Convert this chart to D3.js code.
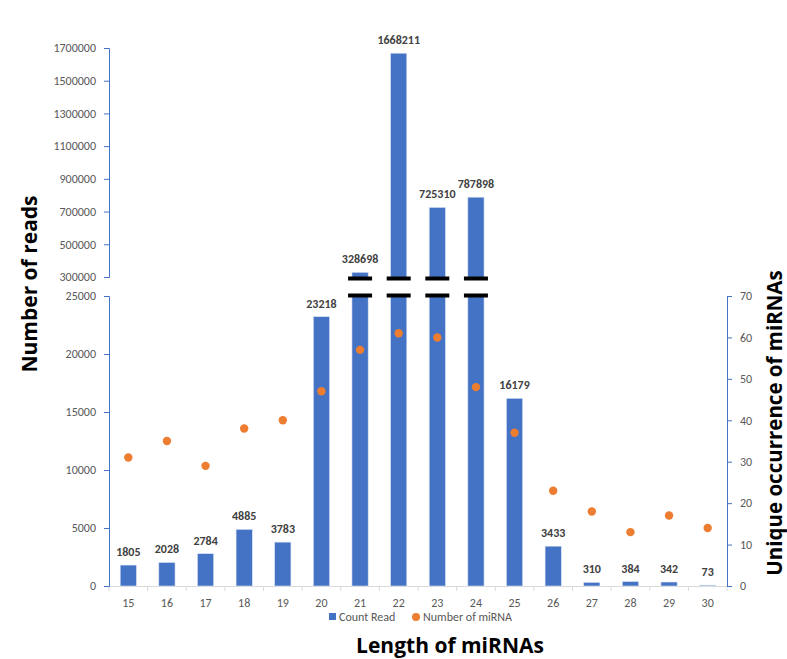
<!DOCTYPE html>
<html>
<head>
<meta charset="utf-8">
<script src="https://cdn.jsdelivr.net/npm/d3@7"></script>
<style>
  body { margin: 0; background: #fff; }
  text { font-family: Carlito, "Liberation Sans", sans-serif; }
  .title { font-family: "Open Sans", sans-serif; font-weight: bold; fill: #000; }
</style>
</head>
<body>
<div id="chart"></div>
<script>
// miRNA length distribution
const lengths = ['15','16','17','18','19','20','21','22','23','24','25','26','27','28','29','30'];
const countRead = [1805, 2028, 2784, 4885, 3783, 23218, 328698, 1668211, 725310, 787898, 16179, 3433, 310, 384, 342, 73];
const miRNA = [31, 35, 29, 38, 40, 47, 57, 61, 60, 48, 37, 23, 18, 13, 17, 14];
const lowerTicks = [0, 5000, 10000, 15000, 20000, 25000];
const upperTicks = [300000, 500000, 700000, 900000, 1100000, 1300000, 1500000, 1700000];
const rightTicks = [0, 10, 20, 30, 40, 50, 60, 70];

const width = 787, height = 659;
const blue = '#4472c4', orange = '#ed7d31', axisBlue = '#4472c4';
const breakAt = 25000;

const svg = d3.select('#chart').append('svg')
  .attr('width', width).attr('height', height);

const x = d3.scaleBand().domain(lengths).range([109, 727]);
const yLow = d3.scaleLinear().domain([0, 25000]).range([586, 296]);
const yUp = d3.scaleLinear().domain([300000, 1700000]).range([277, 48]);
const yRight = d3.scaleLinear().domain([0, 70]).range([586, 296]);

const barW = x.bandwidth() * 0.42;
const data = lengths.map((l, i) => ({ len: l, reads: countRead[i], mi: miRNA[i] }));
const fmt = d3.format('d');

// x axis
const xAxis = svg.append('g').attr('transform', 'translate(0,586)')
  .call(d3.axisBottom(x).tickSize(0).tickPadding(12));
xAxis.select('.domain').attr('stroke', '#d9d9d9');
xAxis.selectAll('text').attr('fill', '#595959').attr('font-size', 12);
xAxis.selectAll('.bound').data(d3.range(lengths.length + 1)).enter().append('line')
  .attr('x1', i => 109 + i * x.step()).attr('x2', i => 109 + i * x.step())
  .attr('y1', 0).attr('y2', 5).attr('stroke', '#d9d9d9');

// left axes (broken)
function styleAxis(g) {
  g.select('.domain').attr('stroke', axisBlue);
  g.selectAll('.tick line').attr('stroke', axisBlue);
  g.selectAll('text').attr('fill', '#595959').attr('font-size', 12);
}
svg.append('g').attr('transform', 'translate(109,0)')
  .call(d3.axisLeft(yLow).tickValues(lowerTicks).tickFormat(fmt).tickSize(5).tickPadding(8))
  .call(styleAxis);
svg.append('g').attr('transform', 'translate(109,0)')
  .call(d3.axisLeft(yUp).tickValues(upperTicks).tickFormat(fmt).tickSize(5).tickPadding(8))
  .call(styleAxis);
svg.append('g').attr('transform', 'translate(727,0)')
  .call(d3.axisRight(yRight).tickValues(rightTicks).tickFormat(fmt).tickSize(5).tickPadding(8))
  .call(styleAxis);

// bars, split for the tall ones
const bars = svg.append('g');
data.forEach(d => {
  const cx = x(d.len) + x.bandwidth() / 2;
  const lowTop = d.reads > breakAt ? yLow(breakAt) : yLow(d.reads);
  bars.append('rect')
    .attr('x', cx - barW / 2).attr('y', lowTop)
    .attr('width', barW).attr('height', yLow(0) - lowTop)
    .attr('fill', blue).attr('stroke', '#dae3f3').attr('stroke-width', 0.6);
  if (d.reads > breakAt) {
    bars.append('rect')
      .attr('x', cx - barW / 2).attr('y', yUp(d.reads))
      .attr('width', barW).attr('height', yUp(300000) - yUp(d.reads) + 2)
      .attr('fill', blue).attr('stroke', '#dae3f3').attr('stroke-width', 0.6);
    [yUp(300000) + 1.5, yLow(breakAt) - 0.5].forEach(yy => {
      bars.append('rect')
        .attr('x', cx - 12).attr('y', yy - 2)
        .attr('width', 24).attr('height', 4).attr('fill', '#000');
    });
  }
  const top = d.reads > breakAt ? yUp(d.reads) : yLow(d.reads);
  bars.append('text')
    .attr('x', cx).attr('y', top - 9)
    .attr('text-anchor', 'middle')
    .attr('font-size', 12).attr('font-weight', 'bold').attr('fill', '#404040')
    .text(d.reads);
});

// miRNA dots
svg.append('g').selectAll('circle').data(data).enter().append('circle')
  .attr('cx', d => x(d.len) + x.bandwidth() / 2)
  .attr('cy', d => yRight(d.mi))
  .attr('r', 4.2).attr('fill', orange);

// legend
const lg = svg.append('g').attr('transform', 'translate(0,617)');
lg.append('rect').attr('x', 329).attr('y', -4).attr('width', 7).attr('height', 7).attr('fill', blue);
lg.append('text').attr('x', 339).attr('y', 4).attr('font-size', 12).attr('fill', '#595959').text('Count Read');
lg.append('circle').attr('cx', 416).attr('cy', 0).attr('r', 4).attr('fill', orange);
lg.append('text').attr('x', 423).attr('y', 4).attr('font-size', 12).attr('fill', '#595959').text('Number of miRNA');

// titles
svg.append('text').attr('class', 'title')
  .attr('x', 450).attr('y', 653).attr('text-anchor', 'middle')
  .attr('font-size', 21).text('Length of miRNAs');
svg.append('text').attr('class', 'title')
  .attr('transform', 'translate(37,284) rotate(-90)').attr('text-anchor', 'middle')
  .attr('font-size', 21).text('Number of reads');
svg.append('text').attr('class', 'title')
  .attr('transform', 'translate(782,423) rotate(-90)').attr('text-anchor', 'middle')
  .attr('font-size', 20.5).text('Unique occurrence of miRNAs');
</script>
</body>
</html>
